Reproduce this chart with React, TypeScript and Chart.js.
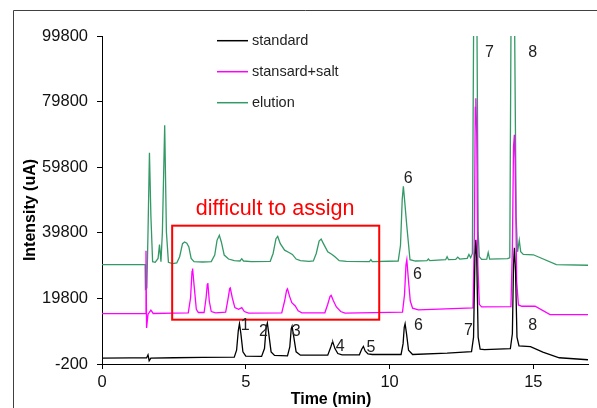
import { useEffect, useRef } from "react";
import { Chart, registerables } from "chart.js";

Chart.register(...registerables);

const FONT = "'Liberation Sans', Arial, Helvetica, sans-serif";

const seriesNames = ["standard", "stansard+salt", "elution"];
const seriesColors = ["#000000", "#FF00FF", "#339966"];

// [time (min), intensity (uA)]
const standard: [number, number][] = [
  [0, 1600], [1.0, 1650], [1.55, 1650], [1.6, 2600], [1.64, 800], [1.7, 1600], [2.5, 1700], [3.5, 1800],
  [4.6, 1900], [4.68, 4000], [4.74, 10000], [4.78, 12100], [4.83, 9000], [4.9, 3500], [5.0, 2200],
  [5.55, 2100], [5.65, 4500], [5.71, 11000], [5.75, 12300], [5.8, 9000], [5.88, 3500], [6.0, 2400],
  [6.45, 2300], [6.53, 5000], [6.58, 10500], [6.61, 11300], [6.67, 8000], [6.75, 3500], [6.9, 2500],
  [7.85, 2500], [7.95, 4800], [8.0, 6200], [8.03, 6400], [8.1, 4500], [8.2, 3000], [8.35, 2600],
  [8.95, 2600], [9.03, 4300], [9.09, 5170], [9.15, 3800], [9.25, 2900], [9.4, 2700],
  [10.4, 2700], [10.47, 6000], [10.51, 11000], [10.54, 12100], [10.59, 9000], [10.66, 4000], [10.8, 2700],
  [12.0, 3100], [12.85, 3600], [12.92, 8000], [12.97, 33000], [13.0, 37700], [13.03, 32000], [13.08, 8000],
  [13.15, 4300], [13.3, 4200], [14.2, 4500], [14.27, 9000], [14.31, 30000], [14.34, 35200], [14.38, 28000],
  [14.43, 8000], [14.5, 5300], [14.9, 5100], [15.33, 3400], [15.9, 1700], [16.9, 1100],
];

const standardSalt: [number, number][] = [
  [0, 15150], [1.0, 15150], [1.5, 15150], [1.53, 34300], [1.55, 10800], [1.6, 15000], [1.7, 16200], [1.78, 15200],
  [2.5, 15300], [3.0, 15400], [3.08, 20000], [3.13, 28000], [3.15, 28900], [3.2, 24000], [3.28, 16500], [3.35, 15500],
  [3.55, 15500], [3.62, 20000], [3.66, 24000], [3.68, 24500], [3.73, 19000], [3.8, 15800], [3.95, 15400],
  [4.3, 15600], [4.38, 19500], [4.44, 22800], [4.46, 23000], [4.53, 20000], [4.62, 17000], [4.75, 16500],
  [4.86, 17000], [4.95, 15800], [5.1, 15300], [6.25, 15400], [6.35, 19000], [6.42, 22300], [6.45, 22700],
  [6.52, 20500], [6.6, 18500], [6.72, 17500], [6.82, 16000], [6.95, 15400], [7.75, 15400], [7.85, 18000],
  [7.93, 20400], [7.97, 20700], [8.05, 19000], [8.15, 17200], [8.3, 15800], [8.45, 15300],
  [10.45, 15600], [10.52, 21000], [10.57, 30000], [10.6, 31600], [10.65, 26000], [10.72, 19000], [10.8, 16800],
  [11.0, 16300], [12.9, 16900], [12.95, 40000], [12.98, 78000], [13.0, 80800], [13.03, 70000], [13.07, 30000],
  [13.12, 18000], [13.2, 17200], [14.22, 17300], [14.27, 35000], [14.31, 66000], [14.34, 69700], [14.37, 60000],
  [14.42, 25000], [14.48, 17800], [14.6, 17400], [15.06, 17400], [15.58, 14850], [16.9, 14850],
];

const elution: [number, number][] = [
  [0, 30100], [1.0, 30100], [1.5, 30100], [1.51, 22600], [1.56, 23000], [1.6, 40000], [1.65, 64200], [1.7, 45000],
  [1.76, 31000], [1.85, 30800], [1.95, 32000], [2.0, 36200], [2.05, 31000], [2.1, 40000], [2.18, 72600], [2.24, 40000],
  [2.31, 30800], [2.45, 30400], [2.6, 30600], [2.7, 32500], [2.8, 36500], [2.87, 37000], [2.95, 36600], [3.02, 35500],
  [3.1, 32000], [3.2, 31000], [3.5, 30900], [3.8, 31000], [3.92, 33000], [4.0, 37500], [4.08, 39050], [4.15, 37000],
  [4.25, 33000], [4.4, 31800], [4.6, 31300], [4.8, 31200], [4.86, 31900], [4.92, 31200], [5.2, 31000],
  [5.85, 31100], [5.95, 33500], [6.05, 38000], [6.11, 38700], [6.2, 36500], [6.35, 34500], [6.5, 33800],
  [6.62, 33200], [6.75, 31800], [6.9, 31300], [7.2, 31100], [7.35, 31200], [7.45, 33500], [7.55, 37300],
  [7.62, 37900], [7.7, 36500], [7.85, 34000], [8.0, 33200], [8.1, 32500], [8.25, 31300], [8.5, 31100],
  [9.3, 31000], [9.35, 31600], [9.4, 31000], [10.3, 31200], [10.38, 36000], [10.44, 50000], [10.48, 54000],
  [10.52, 50000], [10.6, 41800], [10.71, 31600], [10.9, 31200], [11.3, 31300], [11.35, 31800], [11.4, 31300],
  [11.95, 31600], [12.0, 32500], [12.05, 31600], [12.3, 31700], [12.37, 32400], [12.44, 31800], [12.7, 32000],
  [12.76, 33200], [12.82, 32200], [12.88, 33500], [12.92, 99000], [12.97, 130000], [13.04, 101000], [13.08, 40000],
  [13.12, 32500], [13.2, 31700], [13.38, 31800], [13.43, 33800], [13.48, 31800], [14.1, 31900], [14.18, 32200],
  [14.22, 99000], [14.28, 130000], [14.35, 101000], [14.4, 45000], [14.45, 34000], [14.51, 37500], [14.56, 34000],
  [14.65, 33200], [15.0, 33100], [15.8, 30100], [16.9, 29900],
];

const seriesData = [standard, standardSalt, elution];

const xTicks = [0, 5, 10, 15];
const yTicks = [-200, 19800, 39800, 59800, 79800, 99800];

const xTitle = "Time (min)";
const yTitle = "Intensity (uA)";

// peak labels: [text, time, intensity]
const peakLabels: [string, number, number][] = [
  ["1", 4.98, 11510], ["2", 5.61, 9740], ["3", 6.75, 9740], ["4", 8.28, 4980], ["5", 9.35, 4860],
  ["6", 11.0, 11480], ["6", 10.97, 27030], ["6", 10.65, 56210], ["7", 12.74, 10040], ["8", 14.98, 11480],
  ["7", 13.47, 94800], ["8", 14.98, 94800],
];

const noteText = "difficult to assign";
const noteBox = { t0: 2.44, t1: 9.64, v0: 13310, v1: 41970 };
const notePos = { t: 6.02, v: 45320 };

const annotations = {
  id: "annotations",
  afterDraw(chart: any) {
    const { ctx, scales } = chart;
    const x = scales.x;
    const y = scales.y;
    ctx.save();
    // outer frame
    ctx.strokeStyle = "#404040";
    ctx.lineWidth = 1;
    ctx.beginPath();
    ctx.moveTo(13.5, 408);
    ctx.lineTo(13.5, 10.5);
    ctx.lineTo(597, 10.5);
    ctx.stroke();

    // red box
    ctx.strokeStyle = "#FF0000";
    ctx.lineWidth = 2;
    const bx0 = x.getPixelForValue(noteBox.t0);
    const bx1 = x.getPixelForValue(noteBox.t1);
    const by0 = y.getPixelForValue(noteBox.v1);
    const by1 = y.getPixelForValue(noteBox.v0);
    ctx.strokeRect(bx0, by0, bx1 - bx0, by1 - by0);

    ctx.fillStyle = "#FF0000";
    ctx.font = `21.5px ${FONT}`;
    ctx.textAlign = "center";
    ctx.textBaseline = "alphabetic";
    ctx.fillText(noteText, x.getPixelForValue(notePos.t), y.getPixelForValue(notePos.v));

    // peak labels
    ctx.fillStyle = "#222";
    ctx.font = `16px ${FONT}`;
    ctx.textBaseline = "middle";
    for (const [txt, t, v] of peakLabels) {
      ctx.fillText(txt, x.getPixelForValue(t), y.getPixelForValue(v));
    }

    // legend
    ctx.font = `14.5px ${FONT}`;
    ctx.textAlign = "left";
    chart.data.datasets.forEach((ds: any, i: number) => {
      const ly = 40.7 + i * 31;
      ctx.strokeStyle = ds.borderColor;
      ctx.lineWidth = 1.5;
      ctx.beginPath();
      ctx.moveTo(217, ly);
      ctx.lineTo(248, ly);
      ctx.stroke();
      ctx.fillStyle = "#222";
      ctx.fillText(ds.label, 252, ly);
    });

    // axis titles
    ctx.fillStyle = "#000";
    ctx.font = `bold 16px ${FONT}`;
    ctx.textAlign = "center";
    ctx.textBaseline = "alphabetic";
    ctx.fillText(xTitle, 331, 404);
    ctx.save();
    ctx.translate(31, 210);
    ctx.rotate(-Math.PI / 2);
    ctx.textBaseline = "middle";
    ctx.fillText(yTitle, 0, 0);
    ctx.restore();

    ctx.restore();
  },
};

export default function App() {
  const ref = useRef<HTMLCanvasElement | null>(null);

  useEffect(() => {
    if (!ref.current) return;
    const chart = new Chart(ref.current, {
      type: "line",
      data: {
        datasets: seriesNames.map((name, i) => ({
          label: name,
          data: seriesData[i].map(([t, v]) => ({ x: t, y: v })),
          borderColor: seriesColors[i],
          backgroundColor: seriesColors[i],
          borderWidth: 1.3,
          pointRadius: 0,
          tension: 0,
          fill: false,
        })),
      },
      options: {
        animation: false,
        responsive: false,
        layout: { padding: { left: 0, top: 36, right: 9, bottom: 0 } },
        plugins: { legend: { display: false }, tooltip: { enabled: false } },
        scales: {
          x: {
            type: "linear",
            min: 0,
            max: 16.9,
            afterBuildTicks: (s: any) => {
              s.ticks = xTicks.map((v) => ({ value: v }));
            },
            afterFit: (s: any) => {
              s.height = 44;
              s.paddingLeft = 0;
              s.paddingRight = 0;
            },
            grid: { display: true, drawOnChartArea: false, drawTicks: true, tickLength: 5, color: "#000" },
            border: { display: true, color: "#000", width: 1 },
            ticks: {
              font: { family: FONT, size: 16.5 },
              color: "#111",
              padding: 4,
              maxRotation: 0,
              autoSkip: false,
              callback: (v: any) => String(v),
            },
          },
          y: {
            type: "linear",
            min: -200,
            max: 99800,
            afterBuildTicks: (s: any) => {
              s.ticks = yTicks.map((v) => ({ value: v }));
            },
            afterFit: (s: any) => {
              s.width = 102;
              s.paddingTop = 0;
              s.paddingBottom = 0;
            },
            grid: { display: true, drawOnChartArea: false, drawTicks: true, tickLength: 5, color: "#000" },
            border: { display: true, color: "#000", width: 1 },
            ticks: {
              font: { family: FONT, size: 16.5 },
              color: "#111",
              padding: 9,
              autoSkip: false,
              callback: (v: any) => String(v),
            },
          },
        },
      },
      plugins: [annotations],
    });
    return () => chart.destroy();
  }, []);

  return (
    <div style={{ position: "absolute", left: 0, top: 0, width: 597, height: 408, background: "#fff" }}>
      <canvas ref={ref} width={597} height={408} style={{ display: "block" }} />
    </div>
  );
}
